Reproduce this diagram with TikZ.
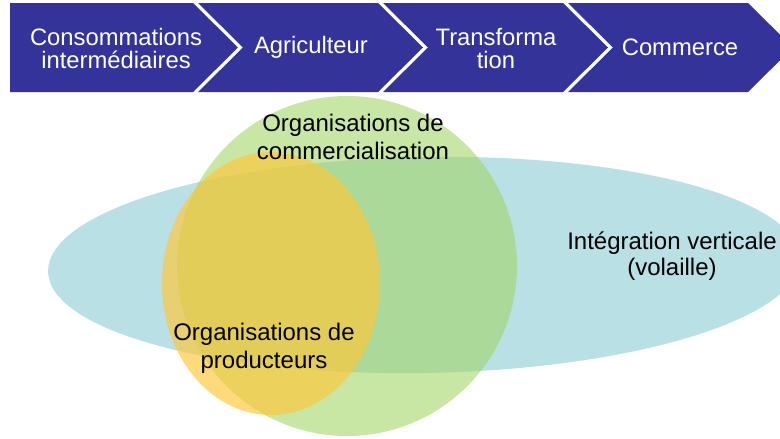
\documentclass[tikz,border=0pt]{standalone}
\usepackage{fontspec}
\setmainfont{Liberation Sans}
\usepackage{tikz}
\usetikzlibrary{positioning}
\definecolor{chevblue}{RGB}{51,51,153}
\definecolor{tealfill}{RGB}{185,224,228}
\definecolor{greenfill}{RGB}{163,213,104}
\definecolor{yellowfill}{RGB}{255,200,60}
\tikzstyle{steplabel}=[text=white,align=center,inner sep=0pt,font=\fontsize{23.8}{23}\selectfont]
\tikzstyle{setlabel}=[text=black,align=center,inner sep=0pt,font=\fontsize{24}{28}\selectfont]

\begin{document}
\begin{tikzpicture}[x=1pt,y=-1pt]
\clip (0,0) rectangle (780,439);
% chaine de valeur
\foreach \i in {0,...,3} {
    \pgfmathsetmacro{\xr}{193+185*\i}
    \pgfmathsetmacro{\xl}{\xr-180}
    \ifnum\i=0
        \fill[chevblue] (10,3) -- (\xr,3) -- ({\xr+45},47.5) -- (\xr,92) -- (10,92) -- cycle;
    \else
        \fill[chevblue] (\xl,3) -- (\xr,3) -- ({\xr+45},47.5) -- (\xr,92) -- (\xl,92) -- ({\xl+45},47.5) -- cycle;
    \fi
}
\node[steplabel] (conso) at (116,48.5) {Consommations\\interm\'ediaires};
\node[steplabel] (agri) at (311,47.5) {Agriculteur};
\node[steplabel] (transfo) at (496,49) {Transforma\\tion};
\node[steplabel] (commerce) at (680,47.5) {Commerce};
% ensembles
\fill[tealfill,rotate around={1:(424,265)}] (424,265) ellipse [x radius=376, y radius=108];
\fill[greenfill,opacity=.6] (347,266) circle [radius=170];
\fill[yellowfill,opacity=.68] (271,283.5) ellipse [x radius=109, y radius=131.5];
\node[setlabel] (commercialisation) at (353,137) {Organisations de\\commercialisation};
\node[setlabel] (producteurs) at (264,348) {Organisations de\\producteurs};
\node[setlabel,font=\fontsize{24}{26}\selectfont] (integration) at (672,256) {Int\'egration verticale\\(volaille)};
\end{tikzpicture}
\end{document}
